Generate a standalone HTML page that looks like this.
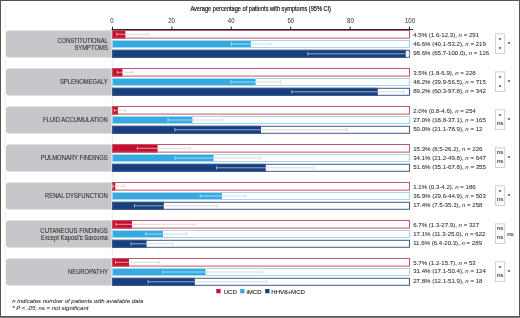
<!DOCTYPE html>
<html><head><meta charset="utf-8"><style>
html,body{margin:0;padding:0;background:#fff;width:520px;height:318px;overflow:hidden}
svg text{font-family:"Liberation Sans", sans-serif}
</style></head><body>
<svg width="520" height="318" viewBox="0 0 520 318" style="position:absolute;left:0;top:0;will-change:transform">
<rect x="0" y="0" width="520" height="318" fill="#fff"/>
<text x="260.7" y="11.4" font-size="7.2" text-anchor="middle" fill="#1a1a1a" stroke="#1a1a1a" stroke-width="0.22" textLength="140.6" lengthAdjust="spacingAndGlyphs">Average percentage of patients with symptoms (95% CI)</text>
<line x1="111.5" y1="29.5" x2="413" y2="29.5" stroke="#262626" stroke-width="1"/>
<line x1="112.50" y1="26.6" x2="112.50" y2="29.5" stroke="#2a2a2a" stroke-width="1"/>
<text x="112.00" y="22.8" font-size="6.6" text-anchor="middle" fill="#2a2a2a" textLength="3.35" lengthAdjust="spacingAndGlyphs">0</text>
<line x1="171.90" y1="26.6" x2="171.90" y2="29.5" stroke="#2a2a2a" stroke-width="1"/>
<text x="171.60" y="22.8" font-size="6.6" text-anchor="middle" fill="#2a2a2a" textLength="6.70" lengthAdjust="spacingAndGlyphs">20</text>
<line x1="231.30" y1="26.6" x2="231.30" y2="29.5" stroke="#2a2a2a" stroke-width="1"/>
<text x="231.20" y="22.8" font-size="6.6" text-anchor="middle" fill="#2a2a2a" textLength="6.70" lengthAdjust="spacingAndGlyphs">40</text>
<line x1="290.70" y1="26.6" x2="290.70" y2="29.5" stroke="#2a2a2a" stroke-width="1"/>
<text x="290.80" y="22.8" font-size="6.6" text-anchor="middle" fill="#2a2a2a" textLength="6.70" lengthAdjust="spacingAndGlyphs">60</text>
<line x1="350.10" y1="26.6" x2="350.10" y2="29.5" stroke="#2a2a2a" stroke-width="1"/>
<text x="350.40" y="22.8" font-size="6.6" text-anchor="middle" fill="#2a2a2a" textLength="6.70" lengthAdjust="spacingAndGlyphs">80</text>
<line x1="409.50" y1="26.6" x2="409.50" y2="29.5" stroke="#2a2a2a" stroke-width="1"/>
<text x="410.00" y="22.8" font-size="6.6" text-anchor="middle" fill="#2a2a2a" textLength="10.05" lengthAdjust="spacingAndGlyphs">100</text>
<line x1="112.3" y1="30" x2="112.3" y2="286" stroke="#e4e4e4" stroke-width="0.8"/>
<path d="M111.6 30.60 H9 a3 3 0 0 0 -3 3 V54.60 a3 3 0 0 0 3 3 H111.6 Z" fill="#c7c6cb"/>
<text x="107.8" y="42.80" font-size="6.3" text-anchor="end" fill="#2a2a2a" stroke="#2a2a2a" stroke-width="0.06" textLength="50.4" lengthAdjust="spacingAndGlyphs">CONSTITUTIONAL</text>
<text x="107.8" y="50.10" font-size="6.3" text-anchor="end" fill="#2a2a2a" stroke="#2a2a2a" stroke-width="0.06" textLength="33.4" lengthAdjust="spacingAndGlyphs">SYMPTOMS</text>
<rect x="112.00" y="30.00" width="13.41" height="8.60" fill="#c8102e"/>
<rect x="112.50" y="30.50" width="297.00" height="7.60" fill="none" stroke="#bf566c" stroke-width="1"/>
<line x1="125.41" y1="34.30" x2="148.65" y2="34.30" stroke="#c9cdcb" stroke-width="0.75"/>
<line x1="148.65" y1="32.60" x2="148.65" y2="36.00" stroke="#c9cdcb" stroke-width="0.75"/>
<line x1="116.77" y1="34.30" x2="125.41" y2="34.30" stroke="#fff" stroke-width="0.8" opacity="0.7"/>
<line x1="116.77" y1="32.60" x2="116.77" y2="36.00" stroke="#fff" stroke-width="0.8" opacity="0.7"/>
<text x="413.2" y="37.10" font-size="6.1" fill="#333" stroke="#333" stroke-width="0.07">4.5% (1.6-12.3), <tspan font-style="italic">n</tspan> = 291</text>
<rect x="112.00" y="40.00" width="138.87" height="8.00" fill="#33abe2"/>
<rect x="112.50" y="40.50" width="297.00" height="7.00" fill="none" stroke="#a6d6ec" stroke-width="1"/>
<line x1="250.87" y1="44.00" x2="270.54" y2="44.00" stroke="#c9cdcb" stroke-width="0.75"/>
<line x1="270.54" y1="42.30" x2="270.54" y2="45.70" stroke="#c9cdcb" stroke-width="0.75"/>
<line x1="231.50" y1="44.00" x2="250.87" y2="44.00" stroke="#fff" stroke-width="0.8" opacity="0.7"/>
<line x1="231.50" y1="42.30" x2="231.50" y2="45.70" stroke="#fff" stroke-width="0.8" opacity="0.7"/>
<text x="413.2" y="46.05" font-size="6.1" fill="#333" stroke="#333" stroke-width="0.07">46.6% (40.1-53.2), <tspan font-style="italic">n</tspan> = 219</text>
<rect x="112.00" y="49.80" width="293.83" height="8.00" fill="#163f80"/>
<rect x="112.50" y="50.30" width="297.00" height="7.00" fill="none" stroke="#3f5a8a" stroke-width="1"/>
<line x1="405.83" y1="53.80" x2="410.00" y2="53.80" stroke="#c9cdcb" stroke-width="0.75"/>
<line x1="410.00" y1="52.10" x2="410.00" y2="55.50" stroke="#c9cdcb" stroke-width="0.75"/>
<line x1="307.79" y1="53.80" x2="405.83" y2="53.80" stroke="#fff" stroke-width="0.8" opacity="0.7"/>
<line x1="307.79" y1="52.10" x2="307.79" y2="55.50" stroke="#fff" stroke-width="0.8" opacity="0.7"/>
<text x="413.2" y="55.10" font-size="6.1" fill="#333" stroke="#333" stroke-width="0.07">98.6% (65.7-100.0), <tspan font-style="italic">n</tspan> = 126</text>
<rect x="495.3" y="33.90" width="9.5" height="19.4" fill="none" stroke="#bbb" stroke-width="0.7"/>
<text x="500.00" y="41.50" font-size="6.2" text-anchor="middle" fill="#222" stroke="#222" stroke-width="0.12">*</text>
<text x="500.00" y="50.60" font-size="6.2" text-anchor="middle" fill="#222" stroke="#222" stroke-width="0.12">*</text>
<text x="508.90" y="45.60" font-size="6.2" text-anchor="middle" fill="#222" stroke="#222" stroke-width="0.12">*</text>
<path d="M111.6 68.60 H9 a3 3 0 0 0 -3 3 V92.60 a3 3 0 0 0 3 3 H111.6 Z" fill="#c7c6cb"/>
<text x="107.8" y="84.30" font-size="6.3" text-anchor="end" fill="#2a2a2a" stroke="#2a2a2a" stroke-width="0.06" textLength="47.9" lengthAdjust="spacingAndGlyphs">SPLENOMEGALY</text>
<rect x="112.00" y="68.00" width="10.43" height="8.60" fill="#c8102e"/>
<rect x="112.50" y="68.50" width="297.00" height="7.60" fill="none" stroke="#bf566c" stroke-width="1"/>
<line x1="122.43" y1="72.30" x2="132.56" y2="72.30" stroke="#c9cdcb" stroke-width="0.75"/>
<line x1="132.56" y1="70.60" x2="132.56" y2="74.00" stroke="#c9cdcb" stroke-width="0.75"/>
<line x1="117.36" y1="72.30" x2="122.43" y2="72.30" stroke="#fff" stroke-width="0.8" opacity="0.7"/>
<line x1="117.36" y1="70.60" x2="117.36" y2="74.00" stroke="#fff" stroke-width="0.8" opacity="0.7"/>
<text x="413.2" y="75.00" font-size="6.1" fill="#333" stroke="#333" stroke-width="0.07">3.5% (1.8-6.9), <tspan font-style="italic">n</tspan> = 228</text>
<rect x="112.00" y="78.00" width="143.64" height="8.00" fill="#33abe2"/>
<rect x="112.50" y="78.50" width="297.00" height="7.00" fill="none" stroke="#a6d6ec" stroke-width="1"/>
<line x1="255.64" y1="82.00" x2="280.37" y2="82.00" stroke="#c9cdcb" stroke-width="0.75"/>
<line x1="280.37" y1="80.30" x2="280.37" y2="83.70" stroke="#c9cdcb" stroke-width="0.75"/>
<line x1="230.90" y1="82.00" x2="255.64" y2="82.00" stroke="#fff" stroke-width="0.8" opacity="0.7"/>
<line x1="230.90" y1="80.30" x2="230.90" y2="83.70" stroke="#fff" stroke-width="0.8" opacity="0.7"/>
<text x="413.2" y="83.95" font-size="6.1" fill="#333" stroke="#333" stroke-width="0.07">48.2% (39.9-56.5), <tspan font-style="italic">n</tspan> = 715</text>
<rect x="112.00" y="87.80" width="265.82" height="8.00" fill="#163f80"/>
<rect x="112.50" y="88.30" width="297.00" height="7.00" fill="none" stroke="#3f5a8a" stroke-width="1"/>
<line x1="377.82" y1="91.80" x2="403.44" y2="91.80" stroke="#c9cdcb" stroke-width="0.75"/>
<line x1="403.44" y1="90.10" x2="403.44" y2="93.50" stroke="#c9cdcb" stroke-width="0.75"/>
<line x1="291.69" y1="91.80" x2="377.82" y2="91.80" stroke="#fff" stroke-width="0.8" opacity="0.7"/>
<line x1="291.69" y1="90.10" x2="291.69" y2="93.50" stroke="#fff" stroke-width="0.8" opacity="0.7"/>
<text x="413.2" y="93.00" font-size="6.1" fill="#333" stroke="#333" stroke-width="0.07">89.2% (60.3-97.8), <tspan font-style="italic">n</tspan> = 342</text>
<rect x="495.3" y="71.90" width="9.5" height="19.4" fill="none" stroke="#bbb" stroke-width="0.7"/>
<text x="500.00" y="79.50" font-size="6.2" text-anchor="middle" fill="#222" stroke="#222" stroke-width="0.12">*</text>
<text x="500.00" y="88.60" font-size="6.2" text-anchor="middle" fill="#222" stroke="#222" stroke-width="0.12">*</text>
<text x="508.90" y="83.60" font-size="6.2" text-anchor="middle" fill="#222" stroke="#222" stroke-width="0.12">*</text>
<path d="M111.6 106.60 H9 a3 3 0 0 0 -3 3 V130.60 a3 3 0 0 0 3 3 H111.6 Z" fill="#c7c6cb"/>
<text x="107.8" y="122.30" font-size="6.3" text-anchor="end" fill="#2a2a2a" stroke="#2a2a2a" stroke-width="0.06" textLength="64.8" lengthAdjust="spacingAndGlyphs">FLUID ACCUMULATION</text>
<rect x="112.00" y="106.00" width="5.96" height="8.60" fill="#c8102e"/>
<rect x="112.50" y="106.50" width="297.00" height="7.60" fill="none" stroke="#bf566c" stroke-width="1"/>
<line x1="117.96" y1="110.30" x2="125.71" y2="110.30" stroke="#c9cdcb" stroke-width="0.75"/>
<line x1="125.71" y1="108.60" x2="125.71" y2="112.00" stroke="#c9cdcb" stroke-width="0.75"/>
<line x1="114.38" y1="110.30" x2="117.96" y2="110.30" stroke="#fff" stroke-width="0.8" opacity="0.7"/>
<line x1="114.38" y1="108.60" x2="114.38" y2="112.00" stroke="#fff" stroke-width="0.8" opacity="0.7"/>
<text x="413.2" y="112.90" font-size="6.1" fill="#333" stroke="#333" stroke-width="0.07">2.0% (0.8-4.6), <tspan font-style="italic">n</tspan> = 254</text>
<rect x="112.00" y="116.00" width="80.46" height="8.00" fill="#33abe2"/>
<rect x="112.50" y="116.50" width="297.00" height="7.00" fill="none" stroke="#a6d6ec" stroke-width="1"/>
<line x1="192.46" y1="120.00" x2="222.56" y2="120.00" stroke="#c9cdcb" stroke-width="0.75"/>
<line x1="222.56" y1="118.30" x2="222.56" y2="121.70" stroke="#c9cdcb" stroke-width="0.75"/>
<line x1="168.02" y1="120.00" x2="192.46" y2="120.00" stroke="#fff" stroke-width="0.8" opacity="0.7"/>
<line x1="168.02" y1="118.30" x2="168.02" y2="121.70" stroke="#fff" stroke-width="0.8" opacity="0.7"/>
<text x="413.2" y="121.85" font-size="6.1" fill="#333" stroke="#333" stroke-width="0.07">27.0% (18.8-37.1), <tspan font-style="italic">n</tspan> = 165</text>
<rect x="112.00" y="125.80" width="149.00" height="8.00" fill="#163f80"/>
<rect x="112.50" y="126.30" width="297.00" height="7.00" fill="none" stroke="#3f5a8a" stroke-width="1"/>
<line x1="261.00" y1="129.80" x2="347.12" y2="129.80" stroke="#c9cdcb" stroke-width="0.75"/>
<line x1="347.12" y1="128.10" x2="347.12" y2="131.50" stroke="#c9cdcb" stroke-width="0.75"/>
<line x1="174.88" y1="129.80" x2="261.00" y2="129.80" stroke="#fff" stroke-width="0.8" opacity="0.7"/>
<line x1="174.88" y1="128.10" x2="174.88" y2="131.50" stroke="#fff" stroke-width="0.8" opacity="0.7"/>
<text x="413.2" y="130.90" font-size="6.1" fill="#333" stroke="#333" stroke-width="0.07">50.0% (21.1-78.9), <tspan font-style="italic">n</tspan> = 12</text>
<rect x="495.3" y="109.90" width="9.5" height="19.4" fill="none" stroke="#bbb" stroke-width="0.7"/>
<text x="500.00" y="117.50" font-size="6.2" text-anchor="middle" fill="#222" stroke="#222" stroke-width="0.12">*</text>
<text x="500.00" y="125.30" font-size="6.2" text-anchor="middle" fill="#333" stroke="#333" stroke-width="0.1">ns</text>
<text x="508.90" y="121.60" font-size="6.2" text-anchor="middle" fill="#222" stroke="#222" stroke-width="0.12">*</text>
<path d="M111.6 144.60 H9 a3 3 0 0 0 -3 3 V168.60 a3 3 0 0 0 3 3 H111.6 Z" fill="#c7c6cb"/>
<text x="107.8" y="160.30" font-size="6.3" text-anchor="end" fill="#2a2a2a" stroke="#2a2a2a" stroke-width="0.06" textLength="67.1" lengthAdjust="spacingAndGlyphs">PULMONARY FINDINGS</text>
<rect x="112.00" y="144.00" width="45.59" height="8.60" fill="#c8102e"/>
<rect x="112.50" y="144.50" width="297.00" height="7.60" fill="none" stroke="#bf566c" stroke-width="1"/>
<line x1="157.59" y1="148.30" x2="190.08" y2="148.30" stroke="#c9cdcb" stroke-width="0.75"/>
<line x1="190.08" y1="146.60" x2="190.08" y2="150.00" stroke="#c9cdcb" stroke-width="0.75"/>
<line x1="137.33" y1="148.30" x2="157.59" y2="148.30" stroke="#fff" stroke-width="0.8" opacity="0.7"/>
<line x1="137.33" y1="146.60" x2="137.33" y2="150.00" stroke="#fff" stroke-width="0.8" opacity="0.7"/>
<text x="413.2" y="150.80" font-size="6.1" fill="#333" stroke="#333" stroke-width="0.07">15.3% (8.5-26.2), <tspan font-style="italic">n</tspan> = 226</text>
<rect x="112.00" y="154.00" width="101.62" height="8.00" fill="#33abe2"/>
<rect x="112.50" y="154.50" width="297.00" height="7.00" fill="none" stroke="#a6d6ec" stroke-width="1"/>
<line x1="213.62" y1="158.00" x2="260.40" y2="158.00" stroke="#c9cdcb" stroke-width="0.75"/>
<line x1="260.40" y1="156.30" x2="260.40" y2="159.70" stroke="#c9cdcb" stroke-width="0.75"/>
<line x1="175.18" y1="158.00" x2="213.62" y2="158.00" stroke="#fff" stroke-width="0.8" opacity="0.7"/>
<line x1="175.18" y1="156.30" x2="175.18" y2="159.70" stroke="#fff" stroke-width="0.8" opacity="0.7"/>
<text x="413.2" y="159.75" font-size="6.1" fill="#333" stroke="#333" stroke-width="0.07">34.1% (21.2-49.8), <tspan font-style="italic">n</tspan> = 647</text>
<rect x="112.00" y="163.80" width="153.77" height="8.00" fill="#163f80"/>
<rect x="112.50" y="164.30" width="297.00" height="7.00" fill="none" stroke="#3f5a8a" stroke-width="1"/>
<line x1="265.77" y1="167.80" x2="314.04" y2="167.80" stroke="#c9cdcb" stroke-width="0.75"/>
<line x1="314.04" y1="166.10" x2="314.04" y2="169.50" stroke="#c9cdcb" stroke-width="0.75"/>
<line x1="216.60" y1="167.80" x2="265.77" y2="167.80" stroke="#fff" stroke-width="0.8" opacity="0.7"/>
<line x1="216.60" y1="166.10" x2="216.60" y2="169.50" stroke="#fff" stroke-width="0.8" opacity="0.7"/>
<text x="413.2" y="168.80" font-size="6.1" fill="#333" stroke="#333" stroke-width="0.07">51.6% (35.1-67.8), <tspan font-style="italic">n</tspan> = 355</text>
<rect x="495.3" y="147.90" width="9.5" height="19.4" fill="none" stroke="#bbb" stroke-width="0.7"/>
<text x="500.00" y="154.20" font-size="6.2" text-anchor="middle" fill="#333" stroke="#333" stroke-width="0.1">ns</text>
<text x="500.00" y="163.30" font-size="6.2" text-anchor="middle" fill="#333" stroke="#333" stroke-width="0.1">ns</text>
<text x="508.90" y="159.60" font-size="6.2" text-anchor="middle" fill="#222" stroke="#222" stroke-width="0.12">*</text>
<path d="M111.6 182.60 H9 a3 3 0 0 0 -3 3 V206.60 a3 3 0 0 0 3 3 H111.6 Z" fill="#c7c6cb"/>
<text x="107.8" y="198.30" font-size="6.3" text-anchor="end" fill="#2a2a2a" stroke="#2a2a2a" stroke-width="0.06" textLength="62.7" lengthAdjust="spacingAndGlyphs">RENAL DYSFUNCTION</text>
<rect x="112.00" y="182.00" width="3.28" height="8.60" fill="#c8102e"/>
<rect x="112.50" y="182.50" width="297.00" height="7.60" fill="none" stroke="#bf566c" stroke-width="1"/>
<line x1="115.28" y1="186.30" x2="124.52" y2="186.30" stroke="#c9cdcb" stroke-width="0.75"/>
<line x1="124.52" y1="184.60" x2="124.52" y2="188.00" stroke="#c9cdcb" stroke-width="0.75"/>
<line x1="112.89" y1="186.30" x2="115.28" y2="186.30" stroke="#fff" stroke-width="0.8" opacity="0.7"/>
<line x1="112.89" y1="184.60" x2="112.89" y2="188.00" stroke="#fff" stroke-width="0.8" opacity="0.7"/>
<text x="413.2" y="188.70" font-size="6.1" fill="#333" stroke="#333" stroke-width="0.07">1.1% (0.3-4.2), <tspan font-style="italic">n</tspan> = 186</text>
<rect x="112.00" y="192.00" width="109.96" height="8.00" fill="#33abe2"/>
<rect x="112.50" y="192.50" width="297.00" height="7.00" fill="none" stroke="#a6d6ec" stroke-width="1"/>
<line x1="221.96" y1="196.00" x2="245.80" y2="196.00" stroke="#c9cdcb" stroke-width="0.75"/>
<line x1="245.80" y1="194.30" x2="245.80" y2="197.70" stroke="#c9cdcb" stroke-width="0.75"/>
<line x1="200.21" y1="196.00" x2="221.96" y2="196.00" stroke="#fff" stroke-width="0.8" opacity="0.7"/>
<line x1="200.21" y1="194.30" x2="200.21" y2="197.70" stroke="#fff" stroke-width="0.8" opacity="0.7"/>
<text x="413.2" y="197.65" font-size="6.1" fill="#333" stroke="#333" stroke-width="0.07">36.9% (29.6-44.9), <tspan font-style="italic">n</tspan> = 503</text>
<rect x="112.00" y="201.80" width="51.85" height="8.00" fill="#163f80"/>
<rect x="112.50" y="202.30" width="297.00" height="7.00" fill="none" stroke="#3f5a8a" stroke-width="1"/>
<line x1="163.85" y1="205.80" x2="217.19" y2="205.80" stroke="#c9cdcb" stroke-width="0.75"/>
<line x1="217.19" y1="204.10" x2="217.19" y2="207.50" stroke="#c9cdcb" stroke-width="0.75"/>
<line x1="134.35" y1="205.80" x2="163.85" y2="205.80" stroke="#fff" stroke-width="0.8" opacity="0.7"/>
<line x1="134.35" y1="204.10" x2="134.35" y2="207.50" stroke="#fff" stroke-width="0.8" opacity="0.7"/>
<text x="413.2" y="206.70" font-size="6.1" fill="#333" stroke="#333" stroke-width="0.07">17.4% (7.5-35.3), <tspan font-style="italic">n</tspan> = 258</text>
<rect x="495.3" y="185.90" width="9.5" height="19.4" fill="none" stroke="#bbb" stroke-width="0.7"/>
<text x="500.00" y="193.50" font-size="6.2" text-anchor="middle" fill="#222" stroke="#222" stroke-width="0.12">*</text>
<text x="500.00" y="201.30" font-size="6.2" text-anchor="middle" fill="#333" stroke="#333" stroke-width="0.1">ns</text>
<text x="508.90" y="197.60" font-size="6.2" text-anchor="middle" fill="#222" stroke="#222" stroke-width="0.12">*</text>
<path d="M111.6 220.60 H9 a3 3 0 0 0 -3 3 V244.60 a3 3 0 0 0 3 3 H111.6 Z" fill="#c7c6cb"/>
<text x="107.8" y="232.80" font-size="6.3" text-anchor="end" fill="#2a2a2a" stroke="#2a2a2a" stroke-width="0.06" textLength="67.5" lengthAdjust="spacingAndGlyphs">CUTANEOUS FINDINGS</text>
<text x="107.8" y="240.10" font-size="6.3" text-anchor="end" fill="#2a2a2a" stroke="#2a2a2a" stroke-width="0.06" textLength="66.8" lengthAdjust="spacingAndGlyphs">Except Kaposi’s Sarcoma</text>
<rect x="112.00" y="220.00" width="19.97" height="8.60" fill="#c8102e"/>
<rect x="112.50" y="220.50" width="297.00" height="7.60" fill="none" stroke="#bf566c" stroke-width="1"/>
<line x1="131.97" y1="224.30" x2="195.14" y2="224.30" stroke="#c9cdcb" stroke-width="0.75"/>
<line x1="195.14" y1="222.60" x2="195.14" y2="226.00" stroke="#c9cdcb" stroke-width="0.75"/>
<line x1="115.87" y1="224.30" x2="131.97" y2="224.30" stroke="#fff" stroke-width="0.8" opacity="0.7"/>
<line x1="115.87" y1="222.60" x2="115.87" y2="226.00" stroke="#fff" stroke-width="0.8" opacity="0.7"/>
<text x="413.2" y="226.60" font-size="6.1" fill="#333" stroke="#333" stroke-width="0.07">6.7% (1.3-27.9), <tspan font-style="italic">n</tspan> = 327</text>
<rect x="112.00" y="230.00" width="50.96" height="8.00" fill="#33abe2"/>
<rect x="112.50" y="230.50" width="297.00" height="7.00" fill="none" stroke="#a6d6ec" stroke-width="1"/>
<line x1="162.96" y1="234.00" x2="186.50" y2="234.00" stroke="#c9cdcb" stroke-width="0.75"/>
<line x1="186.50" y1="232.30" x2="186.50" y2="235.70" stroke="#c9cdcb" stroke-width="0.75"/>
<line x1="145.67" y1="234.00" x2="162.96" y2="234.00" stroke="#fff" stroke-width="0.8" opacity="0.7"/>
<line x1="145.67" y1="232.30" x2="145.67" y2="235.70" stroke="#fff" stroke-width="0.8" opacity="0.7"/>
<text x="413.2" y="235.55" font-size="6.1" fill="#333" stroke="#333" stroke-width="0.07">17.1% (11.3-25.0), <tspan font-style="italic">n</tspan> = 622</text>
<rect x="112.00" y="239.80" width="34.57" height="8.00" fill="#163f80"/>
<rect x="112.50" y="240.30" width="297.00" height="7.00" fill="none" stroke="#3f5a8a" stroke-width="1"/>
<line x1="146.57" y1="243.80" x2="172.49" y2="243.80" stroke="#c9cdcb" stroke-width="0.75"/>
<line x1="172.49" y1="242.10" x2="172.49" y2="245.50" stroke="#c9cdcb" stroke-width="0.75"/>
<line x1="131.07" y1="243.80" x2="146.57" y2="243.80" stroke="#fff" stroke-width="0.8" opacity="0.7"/>
<line x1="131.07" y1="242.10" x2="131.07" y2="245.50" stroke="#fff" stroke-width="0.8" opacity="0.7"/>
<text x="413.2" y="244.60" font-size="6.1" fill="#333" stroke="#333" stroke-width="0.07">11.6% (6.4-20.3), <tspan font-style="italic">n</tspan> = 289</text>
<rect x="495.3" y="223.90" width="9.5" height="19.4" fill="none" stroke="#bbb" stroke-width="0.7"/>
<text x="500.00" y="230.20" font-size="6.2" text-anchor="middle" fill="#333" stroke="#333" stroke-width="0.1">ns</text>
<text x="500.00" y="239.30" font-size="6.2" text-anchor="middle" fill="#333" stroke="#333" stroke-width="0.1">ns</text>
<text x="510.40" y="235.90" font-size="6.2" text-anchor="middle" fill="#333" stroke="#333" stroke-width="0.1">ns</text>
<path d="M111.6 258.60 H9 a3 3 0 0 0 -3 3 V282.60 a3 3 0 0 0 3 3 H111.6 Z" fill="#c7c6cb"/>
<text x="107.8" y="274.30" font-size="6.3" text-anchor="end" fill="#2a2a2a" stroke="#2a2a2a" stroke-width="0.06" textLength="39.8" lengthAdjust="spacingAndGlyphs">NEUROPATHY</text>
<rect x="112.00" y="258.00" width="16.99" height="8.60" fill="#c8102e"/>
<rect x="112.50" y="258.50" width="297.00" height="7.60" fill="none" stroke="#bf566c" stroke-width="1"/>
<line x1="128.99" y1="262.30" x2="158.79" y2="262.30" stroke="#c9cdcb" stroke-width="0.75"/>
<line x1="158.79" y1="260.60" x2="158.79" y2="264.00" stroke="#c9cdcb" stroke-width="0.75"/>
<line x1="115.58" y1="262.30" x2="128.99" y2="262.30" stroke="#fff" stroke-width="0.8" opacity="0.7"/>
<line x1="115.58" y1="260.60" x2="115.58" y2="264.00" stroke="#fff" stroke-width="0.8" opacity="0.7"/>
<text x="413.2" y="264.50" font-size="6.1" fill="#333" stroke="#333" stroke-width="0.07">5.7% (1.2-15.7), <tspan font-style="italic">n</tspan> = 53</text>
<rect x="112.00" y="268.00" width="93.57" height="8.00" fill="#33abe2"/>
<rect x="112.50" y="268.50" width="297.00" height="7.00" fill="none" stroke="#a6d6ec" stroke-width="1"/>
<line x1="205.57" y1="272.00" x2="262.19" y2="272.00" stroke="#c9cdcb" stroke-width="0.75"/>
<line x1="262.19" y1="270.30" x2="262.19" y2="273.70" stroke="#c9cdcb" stroke-width="0.75"/>
<line x1="162.96" y1="272.00" x2="205.57" y2="272.00" stroke="#fff" stroke-width="0.8" opacity="0.7"/>
<line x1="162.96" y1="270.30" x2="162.96" y2="273.70" stroke="#fff" stroke-width="0.8" opacity="0.7"/>
<text x="413.2" y="273.45" font-size="6.1" fill="#333" stroke="#333" stroke-width="0.07">31.4% (17.1-50.4), <tspan font-style="italic">n</tspan> = 124</text>
<rect x="112.00" y="277.80" width="82.84" height="8.00" fill="#163f80"/>
<rect x="112.50" y="278.30" width="297.00" height="7.00" fill="none" stroke="#3f5a8a" stroke-width="1"/>
<line x1="194.84" y1="281.80" x2="266.66" y2="281.80" stroke="#c9cdcb" stroke-width="0.75"/>
<line x1="266.66" y1="280.10" x2="266.66" y2="283.50" stroke="#c9cdcb" stroke-width="0.75"/>
<line x1="148.06" y1="281.80" x2="194.84" y2="281.80" stroke="#fff" stroke-width="0.8" opacity="0.7"/>
<line x1="148.06" y1="280.10" x2="148.06" y2="283.50" stroke="#fff" stroke-width="0.8" opacity="0.7"/>
<text x="413.2" y="282.50" font-size="6.1" fill="#333" stroke="#333" stroke-width="0.07">27.8% (12.1-51.9), <tspan font-style="italic">n</tspan> = 18</text>
<rect x="495.3" y="261.90" width="9.5" height="19.4" fill="none" stroke="#bbb" stroke-width="0.7"/>
<text x="500.00" y="269.50" font-size="6.2" text-anchor="middle" fill="#222" stroke="#222" stroke-width="0.12">*</text>
<text x="500.00" y="277.30" font-size="6.2" text-anchor="middle" fill="#333" stroke="#333" stroke-width="0.1">ns</text>
<text x="508.90" y="273.60" font-size="6.2" text-anchor="middle" fill="#222" stroke="#222" stroke-width="0.12">*</text>
<rect x="216.3" y="289.00" width="4.3" height="4.3" fill="#c8102e"/>
<text x="223.7" y="293.50" font-size="6.1" fill="#2a2a2a" stroke="#2a2a2a" stroke-width="0.12">UCD</text>
<rect x="240.2" y="289.00" width="4.3" height="4.3" fill="#33abe2"/>
<text x="246.4" y="293.50" font-size="6.1" fill="#2a2a2a" stroke="#2a2a2a" stroke-width="0.12">iMCD</text>
<rect x="265.2" y="289.00" width="4.3" height="4.3" fill="#163f80"/>
<text x="271.3" y="293.50" font-size="6.1" fill="#2a2a2a" stroke="#2a2a2a" stroke-width="0.12">HHV8+MCD</text>
<text x="12.3" y="302.9" font-size="6.0" font-style="italic" fill="#333" stroke="#333" stroke-width="0.08">n indicates number of patients with available data</text>
<text x="12.3" y="310.0" font-size="6.0" font-style="italic" fill="#333" stroke="#333" stroke-width="0.08">* P &lt; .05; ns = not significant</text>
<line x1="5.2" y1="7" x2="5.2" y2="314" stroke="#eeeeee" stroke-width="0.8"/>
<line x1="514.6" y1="3" x2="514.6" y2="314" stroke="#eeeeee" stroke-width="0.8"/>
<rect x="0.5" y="0.5" width="519" height="316" fill="none" stroke="#555" stroke-width="1"/>
<line x1="0" y1="317" x2="520" y2="317" stroke="#555" stroke-width="1.5"/>
</svg>
</body></html>
